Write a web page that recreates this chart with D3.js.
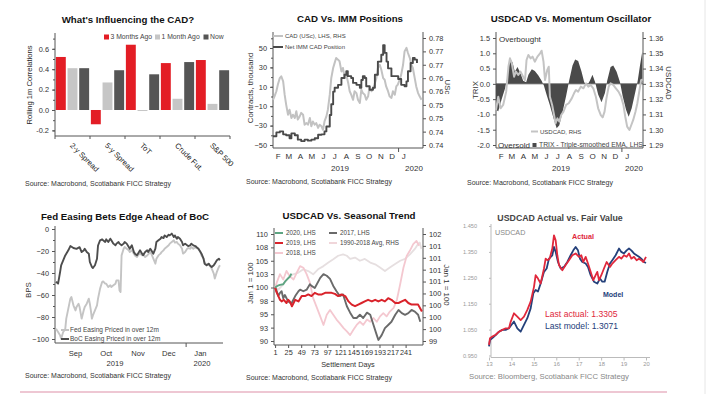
<!DOCTYPE html>
<html><head><meta charset="utf-8">
<script src="https://cdn.jsdelivr.net/npm/d3@7/dist/d3.min.js"></script>
<style>
body{margin:0;background:#fff;}
svg text{font-family:"Liberation Sans",Arial,Helvetica,sans-serif;}
</style></head><body>
<svg id="chart" width="707" height="394"></svg>
<script>
// ================= DATA =================
// Panel 1: What's influencing the CAD?
const corrCategories = ["2-y Spread","5-y Spread","ToT","Crude Fut.","S&P 500"];
const corrSeries = ["3 Months Ago","1 Month Ago","Now"];
const corr3MonthsAgo = [0.52,-0.14,0.64,0.46,0.49];
const corr1MonthAgo = [0.41,0.27,-0.01,0.11,0.06];
const corrNow = [0.41,0.39,0.35,0.47,0.39];
const corrTicks = [-0.2,0,0.2,0.4,0.6];

// Panel 2: CAD vs IMM positions (day offset from 2019-02-01, value)
const immBase = "2019-02-01";
const immNet = [[0,-41],[9,-37],[18,-36],[27,-39],[35,-40],[44,-43],[49,-38],[58,-40],[66,-44.5],[75,-46],[84,-44.5],[93,-45.5],[102,-44.5],[111,-43],[120,-39.5],[129,-39],[137,-36],[142,-31],[151,-19],[155,-8],[160,5],[164,9],[173,12],[182,19],[190,22.5],[195,26],[199,21],[208,19],[213,14],[222,12],[231,9],[235,17],[239,21],[244,19],[248,10.5],[257,7],[266,9],[271,22.5],[279,36],[288,43],[293,53],[297,45],[302,36],[306,29],[315,21],[328,21],[333,18],[341,12],[350,10.5],[355,15.6],[359,26],[366,34.5],[372,39.7],[377,38],[383,34.5]];
const cadUSc = [[0,0.7569],[4,0.7582],[9,0.7601],[13,0.7626],[18,0.7650],[22,0.7657],[27,0.7638],[31,0.7588],[35,0.7551],[40,0.7513],[44,0.7532],[49,0.7501],[53,0.7513],[58,0.7501],[62,0.7526],[66,0.7495],[71,0.7507],[75,0.7520],[80,0.7513],[84,0.7476],[89,0.7482],[93,0.7476],[98,0.7501],[102,0.7470],[106,0.7488],[111,0.7476],[115,0.7482],[120,0.7464],[124,0.7476],[129,0.7470],[133,0.7457],[137,0.7488],[142,0.7507],[146,0.7532],[151,0.7588],[155,0.7650],[160,0.7688],[164,0.7707],[168,0.7725],[173,0.7719],[177,0.7713],[182,0.7675],[186,0.7688],[191,0.7650],[195,0.7663],[200,0.7632],[204,0.7601],[208,0.7588],[213,0.7569],[217,0.7601],[222,0.7594],[226,0.7569],[231,0.7557],[235,0.7607],[239,0.7594],[244,0.7588],[248,0.7569],[253,0.7582],[257,0.7619],[262,0.7601],[266,0.7613],[270,0.7626],[275,0.7650],[279,0.7688],[284,0.7700],[288,0.7682],[293,0.7650],[297,0.7644],[301,0.7619],[306,0.7601],[310,0.7582],[315,0.7576],[319,0.7601],[324,0.7588],[328,0.7619],[332,0.7626],[337,0.7644],[341,0.7663],[346,0.7700],[350,0.7750],[355,0.7763],[359,0.7744],[364,0.7725],[368,0.7700],[372,0.7688],[377,0.7650],[381,0.7619],[386,0.7594],[390,0.7582],[395,0.7569]];
const immLeftTicks = [50,30,10,-10,-30,-50];
const immRightTicks = [0.78,0.775,0.77,0.765,0.76,0.755,0.75,0.745,0.74];
const immRightLabels = ["0.78","0.77","0.77","0.76","0.76","0.75","0.75","0.74","0.74"];
const monthLetters = ["F","M","A","M","J","J","A","S","O","N","D","J"];

// Panel 3: USDCAD vs momentum oscillator (day offset from 2019-02-01)
const trixBase = "2019-02-01";
const trix = [[0,-0.85],[6,-0.9],[15,-0.5],[24,-0.15],[30,0.2],[37,0.83],[44,0.7],[50,0.4],[57,0.55],[65,0.35],[72,0.1],[80,0.05],[86,0.3],[95,0.48],[103,0.42],[112,0.28],[121,0.1],[127,-0.05],[134,-0.35],[143,-0.7],[152,-1.1],[161,-1.45],[168,-1.35],[177,-0.9],[186,-0.4],[194,0.1],[203,0.6],[210,0.8],[218,0.75],[227,0.4],[234,0.05],[242,-0.05],[249,0.1],[256,0.3],[263,0.05],[271,-0.35],[280,-0.6],[289,-0.3],[295,0.1],[304,0.55],[311,0.6],[320,0.4],[329,0.05],[336,-0.4],[345,-0.85],[352,-1.08],[360,-0.8],[369,-0.3],[376,0.1],[382,0.6],[388,1.05]];
const usdcadDaily = [[0,1.3129],[6,1.3216],[12,1.314],[19,1.3162],[27,1.3249],[33,1.3412],[37,1.3467],[42,1.3434],[48,1.3347],[53,1.338],[59,1.3358],[65,1.338],[72,1.3347],[77,1.3325],[81,1.3456],[86,1.3489],[92,1.3467],[97,1.3478],[103,1.3445],[110,1.3478],[117,1.35],[121,1.3517],[126,1.3445],[130,1.3325],[136,1.3391],[140,1.3412],[143,1.3216],[149,1.3162],[154,1.3096],[158,1.3042],[163,1.3074],[168,1.3053],[173,1.3096],[179,1.3118],[186,1.3162],[193,1.3173],[201,1.3205],[207,1.3238],[212,1.326],[218,1.3249],[225,1.3282],[232,1.3271],[239,1.3303],[245,1.3282],[251,1.3293],[258,1.3271],[265,1.3216],[271,1.314],[278,1.3096],[283,1.3081],[288,1.3118],[293,1.3205],[299,1.3282],[304,1.3303],[311,1.3293],[318,1.3271],[325,1.3249],[332,1.3216],[338,1.3162],[343,1.3085],[348,1.302],[354,1.2998],[359,1.3031],[364,1.3064],[370,1.3118],[375,1.3173],[380,1.3249],[385,1.3325],[389,1.333]];
const trixTicks = [1.5,1.0,0.5,0.0,-0.5,-1.0,-1.5,-2.0];
const usdcadTicks = [1.36,1.35,1.34,1.33,1.32,1.31,1.30,1.29];

// Panel 4: Fed vs BoC easing (day offset from 2019-08-26)
const easeBase = "2019-08-26";
const bocEasing = [[1,-48],[3,-49.7],[5,-39],[6,-33],[10,-24],[13,-19.4],[15,-15.5],[18,-17.3],[21,-18],[24,-16.5],[26,-21],[28,-19.5],[29,-18],[31,-21],[33,-22.4],[34,-30],[36,-34.5],[37,-35.5],[39,-33],[41,-27],[42,-15],[44,-10.3],[46,-9.4],[47,-10.3],[49,-11.8],[50,-9.4],[52,-11.8],[54,-8.8],[55,-10.3],[57,-13.3],[59,-14.8],[60,-13.3],[62,-11.8],[63,-13.3],[65,-14.8],[67,-13.3],[68,-11.8],[70,-13.3],[72,-16.4],[73,-17.9],[75,-14.8],[77,-21],[78,-22.4],[80,-23.9],[81,-22.4],[83,-19.4],[85,-22.4],[86,-23.9],[88,-20.9],[90,-19.4],[91,-20.9],[93,-17.9],[94,-19.4],[96,-22.4],[98,-17.9],[99,-11.8],[101,-10.3],[103,-8.8],[104,-7.3],[106,-8.2],[107,-5.8],[109,-7.3],[111,-5.2],[112,-5.8],[114,-4.2],[116,-7.3],[117,-5.8],[119,-8.8],[120,-7.3],[122,-8.8],[124,-11.8],[125,-14.8],[127,-13.3],[129,-14.8],[130,-15.5],[132,-14.8],[133,-13.3],[135,-14.8],[137,-15.5],[138,-16.4],[140,-17.9],[142,-20.9],[143,-22.4],[145,-26.9],[146,-31.5],[148,-32.9],[150,-31.5],[151,-32.9],[153,-34.5],[155,-32.9],[156,-31.5],[158,-28.5],[160,-27],[161,-28.5]];
const fedEasing = [[1,-90.6],[3,-93.6],[5,-96.7],[6,-99.7],[8,-93.6],[10,-91],[11,-81.5],[13,-72.4],[15,-63.3],[16,-61.8],[18,-69.4],[20,-74],[21,-71],[23,-67.9],[24,-71],[26,-81.5],[28,-74],[29,-71],[31,-67.9],[33,-63.3],[34,-67.9],[35,-74],[36,-81.5],[37,-78.5],[39,-74],[41,-69.4],[42,-63.3],[44,-54.2],[46,-48.2],[47,-47.6],[49,-49.7],[50,-49.7],[52,-52.7],[54,-51.2],[55,-52.7],[57,-51.2],[59,-49.7],[60,-46.7],[62,-46.7],[63,-55.8],[64,-57.3],[65,-24],[67,-17.9],[68,-16.4],[70,-17.9],[72,-19.4],[73,-21],[75,-19.4],[77,-22.4],[78,-24],[80,-25.5],[81,-24],[83,-22.4],[85,-24],[86,-22.4],[88,-25.5],[90,-24],[93,-21],[94,-22.4],[96,-27],[98,-31.5],[99,-27],[101,-24],[103,-22.4],[104,-21],[106,-19.4],[107,-17.9],[109,-16.4],[111,-14.8],[112,-13.3],[114,-11.8],[116,-10.3],[117,-12.4],[119,-11.8],[120,-13.3],[122,-14.8],[124,-17.9],[125,-22.4],[127,-21],[129,-17.9],[130,-17.3],[132,-17.9],[133,-16.4],[135,-17.9],[137,-16.4],[138,-17.3],[140,-17.9],[142,-21],[143,-24],[145,-27],[146,-30],[148,-33],[150,-31.5],[151,-33],[153,-36],[155,-40.6],[156,-45],[158,-39],[160,-34.5],[161,-33]];
const easeTicks = [0,-20,-40,-60,-80,-100];
const easeMonths = [["2019-09-15","Sep"],["2019-10-15","Oct"],["2019-11-15","Nov"],["2019-12-15","Dec"],["2020-01-15","Jan"]];

// Panel 5: USDCAD seasonal (settlement day, index)
const season2020 = [[1,100],[5,100.3],[10,100.5],[16,100.6],[20,101.2],[24,101.6],[28,102],[31,102.6]];
const season2019 = [[1,100],[3,99.3],[7,98.4],[10,97.7],[13,97.4],[17,97.7],[22,97.1],[25,97.7],[28,97.4],[32,96.5],[35,97.1],[38,97.7],[44,97.4],[50,98.4],[56,98.4],[62,98.7],[68,98.4],[74,99],[80,98.7],[87,98.7],[93,99],[99,99],[105,99],[111,98.8],[117,98.4],[123,98.7],[130,98.4],[136,97.4],[142,96.8],[148,96.5],[154,96.8],[160,97.1],[166,97.4],[172,97.7],[179,97.4],[185,97.7],[191,97.4],[197,97.7],[203,97.4],[209,98],[215,97.7],[222,97.1],[228,97.1],[234,97.4],[240,97.7],[246,97.1],[252,96.8],[258,96.8],[264,96.8],[271,95.5]];
const season2017 = [[1,100],[3,99.6],[7,98.4],[10,99],[13,99.3],[16,98],[19,98.6],[25,97.4],[31,97],[38,98.4],[44,99.3],[47,99.6],[53,99.3],[59,99.6],[65,100.6],[68,100.3],[74,99.9],[84,101.8],[90,102.5],[96,102.2],[102,101.6],[108,100.3],[114,99.3],[120,98.4],[126,98.7],[133,96.5],[139,95.3],[145,94.3],[151,94.3],[157,94.9],[163,94.3],[170,95.3],[176,94.9],[182,93],[188,91.1],[191,90.2],[197,91.1],[203,92.4],[209,93],[215,93.6],[222,94.9],[228,95.8],[234,95.2],[240,94.9],[246,95.2],[252,95.8],[258,95.5],[264,94.9],[268,93.6]];
const season2018 = [[1,100],[4,100.9],[10,102.5],[16,101.5],[22,103.1],[28,102.1],[35,101.5],[41,102.8],[47,104],[53,103.7],[59,102.5],[65,100.9],[71,98],[78,96.2],[84,94.6],[90,93],[96,94.9],[102,95.8],[108,94.9],[114,94],[120,93.3],[127,92.4],[133,91.8],[139,91.1],[145,92.1],[151,93],[157,93.6],[163,93],[170,94],[176,93.6],[182,94.3],[188,93.6],[194,94.6],[200,95.2],[206,94.6],[212,95.5],[219,96.2],[225,97.7],[231,100.6],[237,103.7],[243,105.9],[249,106.9],[255,108.1],[261,108.7],[266,107.8]];
const seasonAvgRHS = [[1,100.5],[7,100.44],[16,100.59],[25,100.77],[34,100.87],[44,100.92],[53,101.01],[62,100.96],[71,100.87],[80,101.01],[90,101.1],[99,101.2],[108,101.29],[117,101.39],[126,101.43],[133,101.39],[139,101.3],[148,101.34],[157,101.25],[166,101.3],[176,101.2],[185,101.15],[194,101.06],[203,100.96],[212,101.06],[221,101.15],[231,101.25],[240,101.3],[249,101.43],[258,101.58],[264,101.72],[267,101.76],[270,101.58]];
const seasonLeftTicks = [90,92.5,95,97.5,100,102.5,105,107.5,110];
const seasonLeftLabels = ["90","93","95","98","100","103","105","108","110"];
const seasonRightTicks = [99,99.333,99.667,100,100.333,100.667,101,101.333,101.667,102];
const seasonRightLabels = ["99","100","100","100","100","101","101","101","101","102"];
const seasonDayTicks = [1,25,49,73,97,121,145,169,193,217,241];

// Panel 6: USDCAD actual vs fair value (year, level)
const fvActual = [[13.0,0.991],[13.045,1.017],[13.149,1.023],[13.297,1.030],[13.446,1.042],[13.594,1.049],[13.743,1.055],[13.892,1.055],[13.966,1.080],[14.114,1.113],[14.263,1.100],[14.412,1.087],[14.56,1.100],[14.709,1.126],[14.857,1.158],[15.006,1.215],[15.08,1.260],[15.184,1.247],[15.303,1.228],[15.452,1.286],[15.526,1.324],[15.6,1.318],[15.704,1.324],[15.823,1.363],[15.897,1.414],[15.972,1.395],[16.046,1.337],[16.12,1.299],[16.269,1.279],[16.418,1.299],[16.566,1.318],[16.715,1.337],[16.863,1.344],[17.012,1.331],[17.116,1.337],[17.205,1.311],[17.309,1.331],[17.413,1.305],[17.532,1.273],[17.651,1.241],[17.755,1.260],[17.829,1.273],[17.903,1.241],[18.007,1.260],[18.126,1.286],[18.245,1.311],[18.394,1.292],[18.498,1.305],[18.646,1.318],[18.795,1.331],[18.899,1.324],[19.018,1.337],[19.137,1.331],[19.241,1.344],[19.345,1.324],[19.464,1.331],[19.582,1.318],[19.686,1.324],[19.79,1.318],[19.88,1.311],[20.0,1.3305]];
const fvModel = [[13.0,0.985],[13.045,1.010],[13.149,1.017],[13.297,1.029],[13.446,1.042],[13.594,1.049],[13.743,1.049],[13.892,1.055],[13.996,1.068],[14.114,1.081],[14.263,1.055],[14.412,1.042],[14.56,1.068],[14.709,1.094],[14.857,1.132],[14.976,1.190],[15.08,1.203],[15.184,1.197],[15.303,1.228],[15.452,1.273],[15.571,1.286],[15.675,1.324],[15.823,1.337],[15.897,1.369],[15.972,1.350],[16.076,1.311],[16.195,1.286],[16.343,1.292],[16.492,1.311],[16.64,1.337],[16.759,1.356],[16.863,1.369],[16.967,1.356],[17.056,1.324],[17.16,1.311],[17.309,1.305],[17.413,1.292],[17.532,1.260],[17.68,1.235],[17.829,1.228],[17.948,1.247],[18.052,1.235],[18.156,1.235],[18.275,1.273],[18.394,1.305],[18.498,1.318],[18.646,1.337],[18.795,1.363],[18.899,1.350],[19.018,1.344],[19.137,1.356],[19.241,1.363],[19.345,1.356],[19.464,1.344],[19.582,1.337],[19.686,1.331],[19.79,1.324],[19.91,1.311],[20.0,1.3071]];
const fvYTicks = [0.95,1.05,1.15,1.25,1.35,1.45];
const fvXTicks = [13,14,15,16,17,18,19,20];
const lastActual = 1.3305, lastModel = 1.3071;

// ================= DRAW =================
const FONT = "'Liberation Sans', Arial, Helvetica, sans-serif";
const svg = d3.select("#chart");
svg.append("rect").attr("width",707).attr("height",394).attr("fill","#fff");

function addText(g, x, y, s, o = {}) {
  const t = g.append("text").attr("x", x).attr("y", y).attr("dy", "0.35em").text(s)
    .attr("font-size", o.size || 7.4).attr("fill", o.fill || "#222")
    .attr("font-weight", o.weight || "normal").attr("text-anchor", o.anchor || "start");
  if (o.rotate) t.attr("transform", `rotate(${o.rotate},${x},${y})`);
  if (o.length) t.attr("textLength", o.length).attr("lengthAdjust", "spacingAndGlyphs");
  return t;
}
function vline(g, x, y1, y2, c, w) { g.append("line").attr("x1",x).attr("x2",x).attr("y1",y1).attr("y2",y2).attr("stroke",c||"#555").attr("stroke-width",w||1); }
function hline(g, y, x1, x2, c, w) { g.append("line").attr("x1",x1).attr("x2",x2).attr("y1",y).attr("y2",y).attr("stroke",c||"#555").attr("stroke-width",w||1); }
function styleAxis(g, fs, tickColor, textColor) {
  g.attr("font-family", FONT).attr("font-size", fs).attr("color", textColor || "#333");
  g.select(".domain").remove();
  g.selectAll(".tick line").attr("stroke", tickColor || "#555");
}
function drawLine(g, data, x, y, color, w, curve) {
  g.append("path").datum(data).attr("fill","none").attr("stroke",color).attr("stroke-width",w)
    .attr("stroke-linejoin","round").attr("stroke-linecap","butt")
    .attr("d", d3.line().x(d => x(d[0])).y(d => y(d[1])).curve(curve || d3.curveLinear));
}
const parse = d3.utcParse("%Y-%m-%d");
function dayScale(base, start, end, r0, r1) {
  const b = parse(base).getTime();
  const s = d3.scaleUtc().domain([parse(start), parse(end)]).range([r0, r1]);
  const f = d => s(new Date(b + d * 864e5));
  f.time = s;
  return f;
}
function sourceText(g, x, y, s, o) { addText(g, x, y, s, Object.assign({size:7, fill:"#333"}, o || {})); }

// ---------- Panel 1 ----------
{
  const g = svg.append("g");
  addText(g, 128, 20, "What's Influencing the CAD?", {size:9.7, weight:"bold", anchor:"middle", fill:"#111"});
  const x0 = d3.scaleBand().domain(corrCategories).range([55, 230]);
  const x1 = d3.scaleBand().domain(corrSeries).range([0, x0.bandwidth()]).paddingInner(0.15).paddingOuter(0.075);
  const y = d3.scaleLinear().domain([-0.255, 0.755]).range([136, 33]);
  const vals = [corr3MonthsAgo, corr1MonthAgo, corrNow];
  const cols = ["#e31d25", "#c6c6c6", "#555555"];
  corrSeries.forEach((s, i) => {
    g.append("g").selectAll("rect").data(vals[i]).join("rect")
      .attr("x", (v, j) => x0(corrCategories[j]) + x1(s))
      .attr("width", x1.bandwidth())
      .attr("y", v => y(Math.max(0, v)))
      .attr("height", v => Math.abs(y(v) - y(0)))
      .attr("fill", cols[i]);
  });
  const ax = g.append("g").attr("transform","translate(55,0)")
    .call(d3.axisLeft(y).tickValues(corrTicks).tickFormat(d => d.toFixed(1)).tickSize(3).tickPadding(3));
  styleAxis(ax, 7.4);
  const mn = g.append("g").attr("transform","translate(55,0)")
    .call(d3.axisLeft(y).tickValues(d3.range(-0.2, 0.75, 0.1)).tickFormat("").tickSize(2));
  styleAxis(mn, 7.4);
  vline(g, 55, 33, 136);
  hline(g, 136, 55, 230);
  corrCategories.forEach(c => vline(g, x0(c), 136, 139));
  vline(g, 230, 136, 139);
  corrCategories.forEach(c => {
    const cx = x0(c) + x0.bandwidth() / 2;
    g.append("text").attr("x", 0).attr("y", 0).text(c)
      .attr("transform", `translate(${cx - 3},${146}) rotate(45)`)
      .attr("font-size", 7.6).attr("fill", "#222");
  });
  addText(g, 29, 85, "Rolling 1m Correlations", {size:7.6, anchor:"middle", rotate:-90});
  // legend
  const lx = [104, 155, 203.5];
  corrSeries.forEach((s, i) => {
    g.append("rect").attr("x", lx[i]).attr("y", 34.5).attr("width", 5).attr("height", 5).attr("fill", cols[i]);
    addText(g, lx[i] + 6.5, 37, s, {size:6.8, fill:"#444"});
  });
  sourceText(g, 25, 183.3, "Source: Macrobond, Scotiabank FICC Strategy");
}

// ---------- Panel 2 ----------
{
  const g = svg.append("g");
  addText(g, 350, 19, "CAD Vs. IMM Positions", {size:9.7, weight:"bold", anchor:"middle", fill:"#111"});
  const x = dayScale(immBase, "2019-02-01", "2020-03-06", 273, 423);
  const yL = d3.scaleLinear().domain([-50, 50]).range([145, 48]);
  const yR = d3.scaleLinear().domain([0.74, 0.78]).range([145, 38]);
  vline(g, 273, 32, 148); vline(g, 423, 32, 148); hline(g, 148, 273, 423);
  const al = g.append("g").attr("transform","translate(273,0)")
    .call(d3.axisLeft(yL).tickValues(immLeftTicks).tickSize(3).tickPadding(3));
  styleAxis(al, 7.4);
  const am = g.append("g").attr("transform","translate(273,0)")
    .call(d3.axisLeft(yL).tickValues(d3.range(-50, 61, 10)).tickFormat("").tickSize(2));
  styleAxis(am, 7.4);
  const ar = g.append("g").attr("transform","translate(423,0)")
    .call(d3.axisRight(yR).tickValues(immRightTicks).tickFormat((d, i) => immRightLabels[i]).tickSize(3).tickPadding(3));
  styleAxis(ar, 7.4);
  drawLine(g, cadUSc, x, yR, "#c2c2c2", 2);
  drawLine(g, immNet, x, yL, "#4a4a4a", 1.9, d3.curveStepAfter);
  monthLetters.forEach((m, i) => {
    const d = new Date(Date.UTC(2019, 1 + i, 15));
    addText(g, x.time(d), 156, m, {size:8, anchor:"middle", fill:"#333"});
  });
  vline(g, x.time(new Date(Date.UTC(2020,0,1))), 148, 152);
  addText(g, 340, 168, "2019", {size:8, anchor:"middle", fill:"#333"});
  addText(g, 414, 168, "2020", {size:8, anchor:"middle", fill:"#333"});
  addText(g, 250, 88, "Contracts, thousand", {size:7.9, anchor:"middle", rotate:-90, fill:"#333"});
  addText(g, 448, 87, "USc", {size:7.9, anchor:"middle", rotate:90, fill:"#333"});
  hline(g, 36, 273, 283, "#c2c2c2", 2);
  addText(g, 285, 36, "CAD (USc), LHS, RHS", {size:6, fill:"#444"});
  hline(g, 47, 273, 283, "#4a4a4a", 2);
  addText(g, 285, 47, "Net IMM CAD Position", {size:6, fill:"#444"});
  sourceText(g, 246, 181.7, "Source: Macrobond, Scotiabank FICC Strategy");
}

// ---------- Panel 3 ----------
{
  const g = svg.append("g");
  addText(g, 571, 19, "USDCAD Vs. Momentum Oscillator", {size:9.7, weight:"bold", anchor:"middle", fill:"#111"});
  const x = dayScale(trixBase, "2019-02-01", "2020-02-26", 496, 643);
  const yL = d3.scaleLinear().domain([-2, 1.5]).range([145, 38]);
  const yR = d3.scaleLinear().domain([1.29, 1.36]).range([145, 38]);
  vline(g, 496, 32, 148); vline(g, 643, 32, 148); hline(g, 148, 496, 643);
  const al = g.append("g").attr("transform","translate(496,0)")
    .call(d3.axisLeft(yL).tickValues(trixTicks).tickFormat(d => d.toFixed(1)).tickSize(3).tickPadding(3));
  styleAxis(al, 7.4);
  const ar = g.append("g").attr("transform","translate(643,0)")
    .call(d3.axisRight(yR).tickValues(usdcadTicks).tickFormat(d => d.toFixed(2)).tickSize(3).tickPadding(3));
  styleAxis(ar, 7.4);
  g.append("path").datum(trix).attr("fill", "#4a4a4a")
    .attr("d", d3.area().x(d => x(d[0])).y0(yL(0)).y1(d => yL(d[1])));
  hline(g, yL(0), 496, 643, "#555", 0.8);
  drawLine(g, usdcadDaily, x, yR, "#c4c4c4", 2);
  monthLetters.forEach((m, i) => {
    const d = new Date(Date.UTC(2019, 1 + i, 15));
    addText(g, x.time(d), 156, m, {size:8, anchor:"middle", fill:"#333"});
  });
  vline(g, x.time(new Date(Date.UTC(2020,0,1))), 148, 152);
  addText(g, 561, 168, "2019", {size:8, anchor:"middle", fill:"#333"});
  addText(g, 634, 168, "2020", {size:8, anchor:"middle", fill:"#333"});
  addText(g, 475, 90, "TRIX", {size:7.9, anchor:"middle", rotate:-90, fill:"#333"});
  addText(g, 669, 83, "USDCAD", {size:7.9, anchor:"middle", rotate:90, fill:"#333"});
  addText(g, 499, 39, "Overbought", {size:8, fill:"#333"});
  hline(g, 131.5, 531, 538, "#c4c4c4", 2);
  addText(g, 540, 131.5, "USDCAD, RHS", {size:6, fill:"#444"});
  addText(g, 498, 145, "Oversold", {size:8, fill:"#333"});
  g.append("rect").attr("x", 532.5).attr("y", 143).attr("width", 4).attr("height", 4).attr("fill", "#4a4a4a");
  addText(g, 539, 145, "TRIX - Triple-smoothed EMA, LHS", {size:6.8, fill:"#444"});
  sourceText(g, 467, 182.3, "Source: Macrobond, Scotiabank FICC Strategy");
}

// ---------- Panel 4 ----------
{
  const g = svg.append("g");
  addText(g, 125, 216.7, "Fed Easing Bets Edge Ahead of BoC", {size:9.7, weight:"bold", anchor:"middle", fill:"#111"});
  const x = dayScale(easeBase, "2019-08-26", "2020-02-06", 55, 223);
  const y = d3.scaleLinear().domain([-100, 0]).range([339, 229]);
  vline(g, 55, 226, 343); hline(g, 343, 55, 223);
  const al = g.append("g").attr("transform","translate(55,0)")
    .call(d3.axisLeft(y).tickValues(easeTicks).tickSize(3).tickPadding(3));
  styleAxis(al, 7.4);
  const am = g.append("g").attr("transform","translate(55,0)")
    .call(d3.axisLeft(y).tickValues(d3.range(-100, 1, 10)).tickFormat("").tickSize(2));
  styleAxis(am, 7.4);
  drawLine(g, fedEasing, x, y, "#c4c4c4", 1.9);
  drawLine(g, bocEasing, x, y, "#4d4d4d", 1.9);
  easeMonths.forEach(([d, m]) => addText(g, x.time(parse(d)), 353, m, {size:7.6, anchor:"middle", fill:"#333"}));
  vline(g, x.time(parse("2020-01-01")), 343, 347);
  addText(g, 115, 363, "2019", {size:7.6, anchor:"middle", fill:"#333"});
  addText(g, 202, 363, "2020", {size:7.6, anchor:"middle", fill:"#333"});
  addText(g, 28, 290, "BPS", {size:7.9, anchor:"middle", rotate:-90, fill:"#333"});
  hline(g, 330, 61, 69, "#c4c4c4", 2);
  addText(g, 70, 330, "Fed Easing Priced in over 12m", {size:6.5, fill:"#444"});
  hline(g, 339, 61, 69, "#4d4d4d", 2);
  addText(g, 70, 339, "BoC Easing Priced in over 12m", {size:6.5, fill:"#444"});
  sourceText(g, 25, 376, "Source: Macrobond, Scotiabank FICC Strategy");
}

// ---------- Panel 5 ----------
{
  const g = svg.append("g");
  addText(g, 349, 216, "USDCAD Vs. Seasonal Trend", {size:9.7, weight:"bold", anchor:"middle", fill:"#111"});
  const x = d3.scaleLinear().domain([-1, 273]).range([274, 423]);
  const yL = d3.scaleLinear().domain([90, 110]).range([341, 234]);
  const yR = d3.scaleLinear().domain([99, 102]).range([341, 234]);
  vline(g, 274, 228, 345); vline(g, 423, 228, 345); hline(g, 345, 274, 423);
  const al = g.append("g").attr("transform","translate(274,0)")
    .call(d3.axisLeft(yL).tickValues(seasonLeftTicks).tickFormat((d, i) => seasonLeftLabels[i]).tickSize(3).tickPadding(3));
  styleAxis(al, 7.4);
  const ar = g.append("g").attr("transform","translate(423,0)")
    .call(d3.axisRight(yR).tickValues(seasonRightTicks).tickFormat((d, i) => seasonRightLabels[i]).tickSize(3).tickPadding(3));
  styleAxis(ar, 7.4);
  const ab = g.append("g").attr("transform","translate(0,345)")
    .call(d3.axisBottom(x).tickValues(seasonDayTicks).tickFormat(d => String(d)).tickSize(3).tickPadding(2));
  styleAxis(ab, 7.3);
  drawLine(g, seasonAvgRHS, x, yR, "#e6dfe0", 1.8);
  drawLine(g, season2018, x, yL, "#f4c8d0", 1.8);
  drawLine(g, season2017, x, yL, "#6a6a6a", 1.9);
  drawLine(g, season2019, x, yL, "#d9232b", 2);
  drawLine(g, season2020, x, yL, "#5ea582", 1.9);
  addText(g, 348, 364, "Settlement Days", {size:7.3, anchor:"middle", fill:"#333"});
  addText(g, 250, 283, "Jan 1 = 100", {size:7.9, anchor:"middle", rotate:-90, fill:"#333"});
  addText(g, 447, 285, "Jan 1 = 100", {size:7.9, anchor:"middle", rotate:90, fill:"#333"});
  const leg = [[275, 233, "#5ea582", "2020, LHS"], [329, 233, "#6a6a6a", "2017, LHS"], [275, 243, "#d9232b", "2019, LHS"],
               [329, 243, "#f0d6da", "1990-2018 Avg, RHS"], [275, 253, "#f4c8d0", "2018, LHS"]];
  leg.forEach(([lx, ly, c, t]) => { hline(g, ly, lx, lx + 8, c, 2); addText(g, lx + 11, ly, t, {size:6.3, fill:"#444"}); });
  sourceText(g, 246, 377.3, "Source: Macrobond, Scotiabank FICC Strategy");
}

// ---------- Panel 6 ----------
{
  const g = svg.append("g");
  addText(g, 560, 217.7, "USDCAD Actual vs. Fair Value", {size:8.8, weight:"bold", anchor:"middle", fill:"#444"});
  const x = d3.scaleLinear().domain([13, 20]).range([489, 646]);
  const y = d3.scaleLinear().domain([0.95, 1.45]).range([355.5, 226]);
  vline(g, 491, 224, 357.5, "#bbb"); hline(g, 357.5, 491, 650, "#bbb");
  const al = g.append("g").attr("transform","translate(491,0)")
    .call(d3.axisLeft(y).tickValues(fvYTicks).tickFormat(d => d.toFixed(3)).tickSize(2).tickPadding(12));
  styleAxis(al, 5.6, "#bbb", "#999");
  const ab = g.append("g").attr("transform","translate(0,357.5)")
    .call(d3.axisBottom(x).tickValues(fvXTicks).tickFormat(d => String(d)).tickSize(3).tickPadding(1));
  styleAxis(ab, 5.8, "#bbb", "#999");
  drawLine(g, fvModel, x, y, "#24407a", 1.8);
  drawLine(g, fvActual, x, y, "#e0283c", 1.8);
  addText(g, 495, 232.5, "USDCAD", {size:7.2, fill:"#888"});
  addText(g, 572, 236.7, "Actual", {size:7.2, weight:"bold", fill:"#e0283c"});
  addText(g, 603, 295, "Model", {size:7, weight:"bold", fill:"#24407a"});
  addText(g, 545, 314, "Last actual: " + lastActual.toFixed(4), {size:8.6, fill:"#e0283c"});
  addText(g, 545, 325.7, "Last model: " + lastModel.toFixed(4), {size:8.6, fill:"#24407a"});
  sourceText(g, 469, 376.7, "Source: Bloomberg, Scotiabank FICC Strategy", {size:6.4, fill:"#888", length:160});
}

// decorative separators
hline(svg, 392, 20, 667, "#e8b4c4", 1.5);
vline(svg, 705, 0, 394, "#e6e6e6", 1);
</script>
</body></html>
